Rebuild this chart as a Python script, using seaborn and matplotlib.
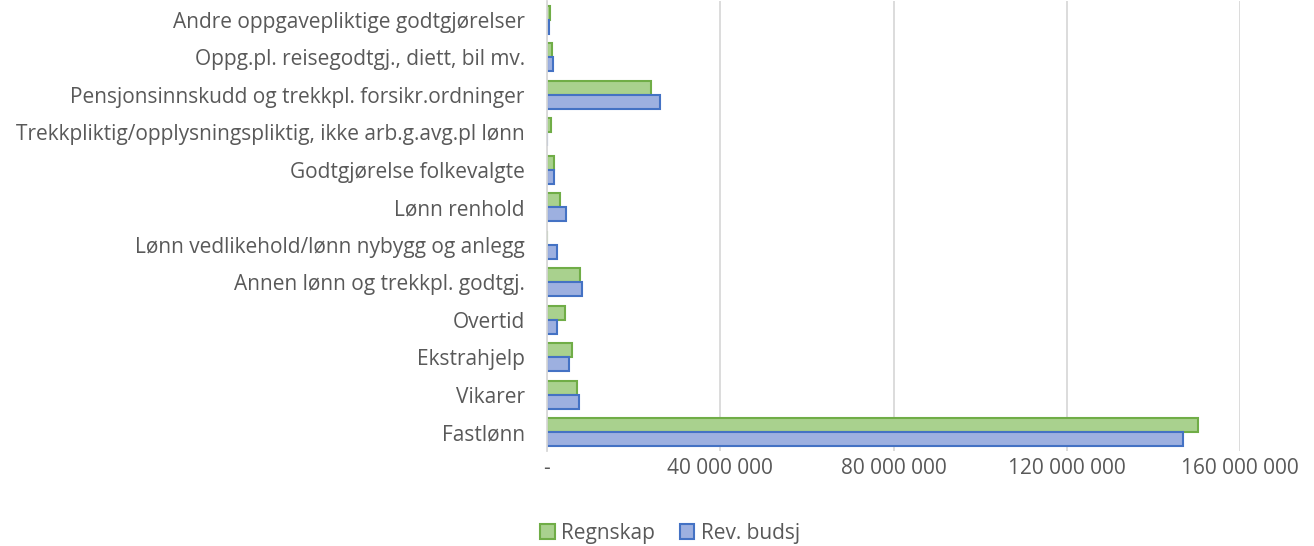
import matplotlib
matplotlib.use("Agg")
import matplotlib.pyplot as plt
import seaborn as sns
import pandas as pd
from matplotlib.patches import Patch

categories = [
    "Andre oppgavepliktige godtgjørelser",
    "Oppg.pl. reisegodtgj., diett, bil mv.",
    "Pensjonsinnskudd og trekkpl. forsikr.ordninger",
    "Trekkpliktig/opplysningspliktig, ikke arb.g.avg.pl lønn",
    "Godtgjørelse folkevalgte",
    "Lønn renhold",
    "Lønn vedlikehold/lønn nybygg og anlegg",
    "Annen lønn og trekkpl. godtgj.",
    "Overtid",
    "Ekstrahjelp",
    "Vikarer",
    "Fastlønn",
]
regnskap = [0.6e6, 1.1e6, 24.0e6, 0.9e6, 1.6e6, 3.0e6, 0.0, 7.7e6, 4.2e6, 5.8e6, 7.0e6, 150.3e6]
rev_budsj = [0.4e6, 1.3e6, 26.0e6, 0.0, 1.6e6, 4.5e6, 2.4e6, 8.1e6, 2.3e6, 5.1e6, 7.4e6, 146.9e6]
series = ["Regnskap", "Rev. budsj"]
xticks = [0, 40e6, 80e6, 120e6, 160e6]
xticklabels = ["-", "40 000 000", "80 000 000", "120 000 000", "160 000 000"]

df = pd.DataFrame({
    "Kategori": categories * 2,
    "Serie": [series[0]] * len(categories) + [series[1]] * len(categories),
    "Verdi": regnskap + rev_budsj,
})

sns.set_style("white")
plt.rcParams["font.family"] = ["Open Sans", "DejaVu Sans"]

fills = {"Regnskap": "#A9D18E", "Rev. budsj": "#9DB0E0"}
edges = {"Regnskap": "#70AD47", "Rev. budsj": "#4472C4"}

fig = plt.figure(figsize=(13.14, 5.46), dpi=100)
ax = fig.add_axes([547 / 1314, 1 - 451 / 546, (1240 - 547) / 1314, (451 - 1) / 546])

sns.barplot(data=df, y="Kategori", x="Verdi", hue="Serie", order=categories,
            hue_order=series, palette=fills, orient="h", width=0.75,
            ax=ax, legend=False, saturation=1)

for container, s in zip(ax.containers, series):
    for bar in container:
        bar.set_edgecolor(edges[s])
        bar.set_linewidth(1.5)

ax.set_xlim(0, 160e6)
ax.set_xticks(xticks)
ax.set_xticklabels(xticklabels)
ax.set_xlabel("")
ax.set_ylabel("")
ax.grid(axis="x", color="#D9D9D9", linewidth=1.3)
ax.set_axisbelow(True)
for side in ["top", "right", "bottom"]:
    ax.spines[side].set_visible(False)
ax.spines["left"].set_color("#D9D9D9")
ax.spines["left"].set_linewidth(1.3)
ax.tick_params(axis="both", length=0, labelsize=15, colors="#595959")
ax.tick_params(axis="y", pad=16)
ax.tick_params(axis="x", pad=5)

handles = [Patch(facecolor=fills[s], edgecolor=edges[s], linewidth=1.5, label=s) for s in series]
fig.legend(handles=handles, loc="center", bbox_to_anchor=(670 / 1314, 1 - 533 / 546),
           ncol=2, frameon=False, fontsize=15, labelcolor="#595959",
           handlelength=0.7, handleheight=0.7, handletextpad=0.3, columnspacing=1.2)

fig.savefig("out.png", dpi=100)
